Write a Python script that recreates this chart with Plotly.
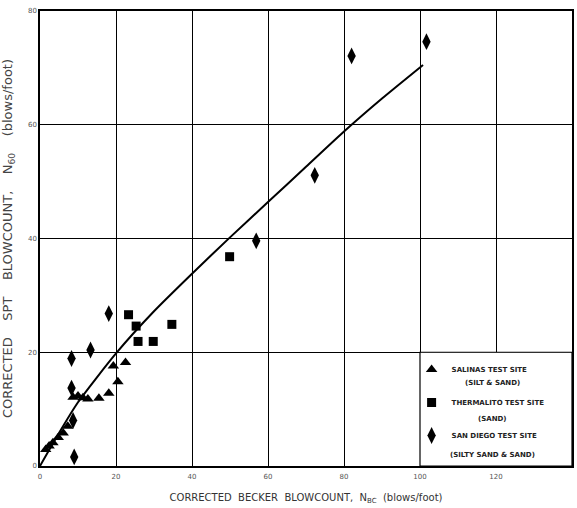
import plotly.graph_objects as go

# ---- data ----
salinas_x = [1.5, 2.4, 3.4, 4.8, 6.1, 7.3, 8.7, 10.0, 11.3, 12.6, 15.5, 18.1, 19.3, 20.5, 22.5]
salinas_y = [2.9, 3.5, 4.1, 5.0, 5.8, 7.0, 12.1, 12.3, 12.0, 11.8, 11.9, 12.8, 17.6, 14.8, 18.2]

thermalito_x = [23.3, 25.3, 25.8, 29.8, 34.7, 49.9]
thermalito_y = [26.6, 24.6, 21.9, 21.9, 24.9, 36.8]

sandiego_x = [9.0, 8.7, 8.3, 8.3, 13.3, 18.1, 56.9, 72.3, 82.0, 101.7]
sandiego_y = [1.6, 8.0, 13.7, 18.9, 20.4, 26.8, 39.6, 51.1, 72.1, 74.6]

curve_x = [0, 5, 10, 20, 30, 40, 50, 60, 70, 80, 90, 100.8]
curve_y = [0, 5.8, 11.2, 19.8, 27.2, 33.8, 40.2, 46.4, 52.6, 58.8, 64.6, 70.5]

x_ticks = [0, 20, 40, 60, 80, 100, 120, 140]
y_ticks = [0, 20, 40, 60, 80]

legend_line1 = ["SALINAS TEST SITE", "THERMALITO TEST SITE", "SAN DIEGO TEST SITE"]
legend_line2 = ["(SILT & SAND)", "(SAND)", "(SILTY SAND & SAND)"]

FONT = "DejaVu Sans"
fig = go.Figure()

fig.add_trace(go.Scatter(x=curve_x, y=curve_y, mode="lines",
                         line=dict(color="black", width=2, shape="spline", smoothing=0.6),
                         showlegend=False, hoverinfo="skip"))

fig.add_trace(go.Scatter(x=salinas_x, y=salinas_y, mode="markers", name=legend_line1[0],
                         legendgroup="a",
                         marker=dict(symbol="triangle-up", size=10, color="black")))
fig.add_trace(go.Scatter(x=thermalito_x, y=thermalito_y, mode="markers", name=legend_line1[1],
                         legendgroup="b",
                         marker=dict(symbol="square", size=9, color="black")))
fig.add_trace(go.Scatter(x=sandiego_x, y=sandiego_y, mode="markers", name=legend_line1[2],
                         legendgroup="c",
                         marker=dict(symbol="diamond-tall", size=12, color="black")))

# white legend box covering grid cell x 100-140, y 0-20
fig.add_shape(type="rect", x0=100, x1=140, y0=0, y1=20, xref="x", yref="y",
              fillcolor="white", line=dict(color="black", width=1.2), layer="above")

# second legend lines
for txt, py in zip(legend_line2, [383, 419, 455]):
    fig.add_annotation(text=txt, xref="paper", yref="paper",
                       x=(494 - 40) / 534, y=(466 - py) / 455,
                       showarrow=False, xanchor="center", yanchor="middle",
                       font=dict(family=FONT, size=7, color="#222", weight="bold"))

fig.update_layout(
    width=577, height=508,
    margin=dict(l=40, r=3, t=11, b=42),
    paper_bgcolor="white", plot_bgcolor="white",
    font=dict(family=FONT, color="#333"),
    legend=dict(x=(413 - 40) / 534, y=(466 - 355) / 455, xanchor="left", yanchor="top",
                bgcolor="rgba(0,0,0,0)", borderwidth=0, tracegroupgap=14,
                traceorder="grouped",
                font=dict(family=FONT, size=7, color="#222", weight="bold"),
                itemsizing="trace"),
    xaxis=dict(range=[0, 140], tickvals=x_ticks, showgrid=True, gridcolor="black", gridwidth=1,
               showline=True, linecolor="black", linewidth=1.5, mirror=True, zeroline=False,
               ticks="outside", ticklen=3, tickcolor="rgba(0,0,0,0)",
               tickfont=dict(size=7, color="#555"),
               title=dict(text="CORRECTED  BECKER  BLOWCOUNT,  N<sub>BC</sub>  (blows/foot)",
                          font=dict(size=10, color="#333"), standoff=14)),
    yaxis=dict(range=[0, 80], tickvals=y_ticks, showgrid=True, gridcolor="black", gridwidth=1,
               showline=True, linecolor="black", linewidth=1.5, mirror=True, zeroline=False,
               ticks="", tickfont=dict(size=7, color="#555"),
               title=dict(text="CORRECTED    SPT    BLOWCOUNT,    N<sub>60</sub>    (blows/foot)",
                          font=dict(size=13, color="#444"), standoff=12)),
)

fig.write_html("out.html")
